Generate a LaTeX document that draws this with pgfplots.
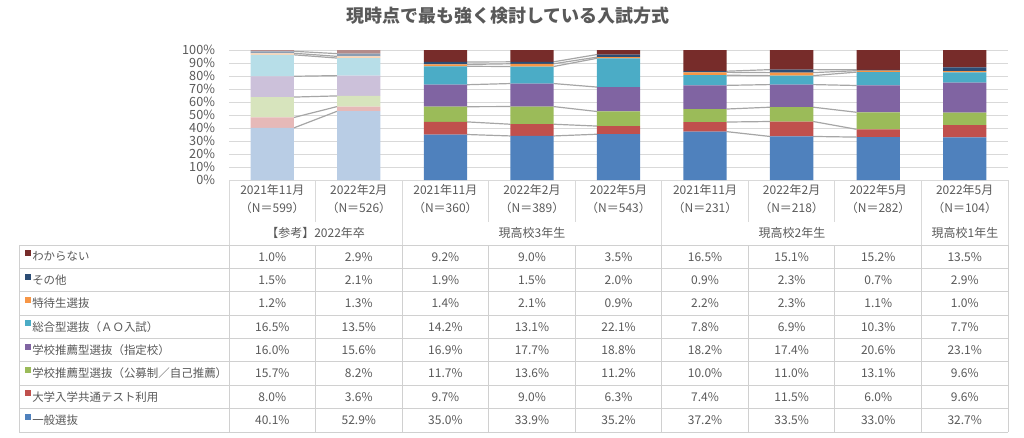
\documentclass[border=0pt]{standalone}
\usepackage{fontspec}
\setmainfont{Noto Sans CJK JP}
\usepackage{pgfplots}
\usepackage{pgfplotstable}
\pgfplotsset{compat=1.18}

\definecolor{txt}{HTML}{595959}
\definecolor{gridc}{HTML}{D9D9D9}
\definecolor{tabc}{HTML}{D0D0D0}
\definecolor{sline}{HTML}{A6A6A6}
\definecolor{cA}{HTML}{4F81BD}
\definecolor{cB}{HTML}{C0504D}
\definecolor{cC}{HTML}{9BBB59}
\definecolor{cD}{HTML}{8064A2}
\definecolor{cE}{HTML}{4BACC6}
\definecolor{cF}{HTML}{F79646}
\definecolor{cG}{HTML}{2C4D75}
\definecolor{cH}{HTML}{772C2A}

% group 1 : 【参考】2022年卒
\pgfplotstableread{
x a b c d e f g h
0 40.1 8.0 15.7 16.0 16.5 1.2 1.5 1.0
1 52.9 3.6 8.2 15.6 13.5 1.3 2.1 2.9
}\dataA
% groups 2-4 : 現高校3年生, 2年生, 1年生
\pgfplotstableread{
x a b c d e f g h
2 35.0 9.7 11.7 16.9 14.2 1.4 1.9 9.2
3 33.9 9.0 13.6 17.7 13.1 2.1 1.5 9.0
4 35.2 6.3 11.2 18.8 22.1 0.9 2.0 3.5
5 37.2 7.4 10.0 18.2 7.8 2.2 0.9 16.5
6 33.5 11.5 11.0 17.4 6.9 2.3 2.3 15.1
7 33.0 6.0 13.1 20.6 10.3 1.1 0.7 15.2
8 32.7 9.6 9.6 23.1 7.7 1.0 2.9 13.5
}\dataB

\pgfplotsset{
  base/.style={scale only axis, width=584.25pt, height=97.5pt,
    xmin=-0.5, xmax=8.5, ymin=0, ymax=100,
    at={(171.75pt,-135pt)}, anchor=south west},
  barax/.style={base, hide axis, ybar stacked, bar width=0.5},
}

\begin{document}
\begin{tikzpicture}[x=0.75pt, y=-0.75pt]
\path[use as bounding box] (0,0) rectangle (1024,437);

% title
\node[font=\fontsize{13.5}{16}\selectfont\bfseries, text=txt] at (508,16)
  {現時点で最も強く検討している入試方式};

% main axis: grid, ticks, series lines
\begin{axis}[base,
  axis x line*=bottom, axis y line*=left,
  x axis line style={gridc, line width=0.75pt},
  y axis line style={draw=none},
  ymajorgrids, grid style={gridc, line width=0.75pt},
  major tick length=0,
  ytick={0,10,...,100},
  yticklabels={0\%,10\%,20\%,30\%,40\%,50\%,60\%,70\%,80\%,90\%,100\%},
  yticklabel style={font=\fontsize{9.5}{11}\selectfont, text=txt, xshift=-7pt},
  xtick={0,...,8},
  xticklabels={{2021年11月\\（N＝599）},{2022年2月\\（N＝526）},
    {2021年11月\\（N＝360）},{2022年2月\\（N＝389）},{2022年5月\\（N＝543）},
    {2021年11月\\（N＝231）},{2022年2月\\（N＝218）},{2022年5月\\（N＝282）},
    {2022年5月\\（N＝104）}},
  xticklabel style={align=center, font=\fontsize{9}{13.5}\selectfont, text=txt},
  unbounded coords=jump,
]
\addplot[sline, line width=0.9pt] coordinates {(0.25,40.1)(0.75,52.9)(1.5,nan)(2.25,35.0)(2.75,33.9)(3,nan)(3.25,33.9)(3.75,35.2)(4.5,nan)(5.25,37.2)(5.75,33.5)(6,nan)(6.25,33.5)(6.75,33.0)};
\addplot[sline, line width=0.9pt] coordinates {(0.25,48.1)(0.75,56.5)(1.5,nan)(2.25,44.7)(2.75,42.9)(3,nan)(3.25,42.9)(3.75,41.5)(4.5,nan)(5.25,44.6)(5.75,45.0)(6,nan)(6.25,45.0)(6.75,39.0)};
\addplot[sline, line width=0.9pt] coordinates {(0.25,63.8)(0.75,64.7)(1.5,nan)(2.25,56.4)(2.75,56.5)(3,nan)(3.25,56.5)(3.75,52.7)(4.5,nan)(5.25,54.6)(5.75,56.0)(6,nan)(6.25,56.0)(6.75,52.1)};
\addplot[sline, line width=0.9pt] coordinates {(0.25,79.8)(0.75,80.3)(1.5,nan)(2.25,73.3)(2.75,74.2)(3,nan)(3.25,74.2)(3.75,71.5)(4.5,nan)(5.25,72.8)(5.75,73.4)(6,nan)(6.25,73.4)(6.75,72.7)};
\addplot[sline, line width=0.9pt] coordinates {(0.25,96.3)(0.75,93.8)(1.5,nan)(2.25,87.5)(2.75,87.3)(3,nan)(3.25,87.3)(3.75,93.6)(4.5,nan)(5.25,80.6)(5.75,80.3)(6,nan)(6.25,80.3)(6.75,83.0)};
\addplot[sline, line width=0.9pt] coordinates {(0.25,97.5)(0.75,95.1)(1.5,nan)(2.25,88.9)(2.75,89.4)(3,nan)(3.25,89.4)(3.75,94.5)(4.5,nan)(5.25,82.8)(5.75,82.6)(6,nan)(6.25,82.6)(6.75,84.1)};
\addplot[sline, line width=0.9pt] coordinates {(0.25,99.0)(0.75,97.2)(1.5,nan)(2.25,90.8)(2.75,90.9)(3,nan)(3.25,90.9)(3.75,96.5)(4.5,nan)(5.25,83.7)(5.75,84.9)(6,nan)(6.25,84.9)(6.75,84.8)};
\end{axis}

% pale bars (group 1)
\begin{axis}[barax]
\foreach \s/\c/\p in {a/cA/40,b/cB/40,c/cC/40,d/cD/40,e/cE/40,f/cF/40,g/cG/55,h/cH/55}{
  \edef\tmp{\noexpand\addplot[fill=\c!\p!white, draw=none] table[x=x, y=\s] {\noexpand\dataA};}
  \tmp
}
\end{axis}

% saturated bars (groups 2-4)
\begin{axis}[barax]
\foreach \s/\c in {a/cA,b/cB,c/cC,d/cD,e/cE,f/cF,g/cG,h/cH}{
  \edef\tmp{\noexpand\addplot[fill=\c, draw=none] table[x=x, y=\s] {\noexpand\dataB};}
  \tmp
}
\end{axis}

% category box lines below the chart
\foreach \k in {0,2,5,8,9} \draw[gridc, line width=0.75pt] ({229+86.56*\k},180) -- ({229+86.56*\k},245);
\foreach \k in {1,3,4,6,7} \draw[gridc, line width=0.75pt] ({229+86.56*\k},180) -- ({229+86.56*\k},222);

\begin{scope}[font=\fontsize{9}{11}\selectfont, text=txt]
\node at (315.6,233) {【参考】2022年卒};
\node at (532,233) {現高校3年生};
\node at (792,233) {現高校2年生};
\node at (965,233) {現高校1年生};
\end{scope}

% data table
\foreach \i in {0,...,8} \draw[tabc, line width=0.75pt] (19,{245+23.375*\i}) -- (1008,{245+23.375*\i});
\draw[tabc, line width=0.75pt] (19,245) -- (19,432);
\foreach \k in {0,...,9} \draw[tabc, line width=0.75pt] ({229+86.56*\k},245) -- ({229+86.56*\k},432);

\foreach \s/\c/\lab [count=\r from 0] in {h/cH/わからない, g/cG/その他, f/cF/特待生選抜,
    e/cE/総合型選抜（ＡＯ入試）, d/cD/学校推薦型選抜（指定校）,
    c/cC/学校推薦型選抜（公募制／自己推薦）, b/cB/大学入学共通テスト利用, a/cA/一般選抜}{
  \pgfmathsetmacro\yc{245+23.375*(\r+0.5)}
  \fill[\c] (25,{\yc-6.5}) rectangle (31,{\yc-0.5});
  \node[anchor=west, inner sep=0pt, font=\fontsize{8.6}{10}\selectfont, text=txt] at (32,\yc) {\lab};
  \foreach \k in {0,...,8}{
    \ifnum\k<2\relax
      \pgfplotstablegetelem{\k}{\s}\of\dataA
    \else
      \pgfmathtruncatemacro\kk{\k-2}
      \pgfplotstablegetelem{\kk}{\s}\of\dataB
    \fi
    \node[font=\fontsize{9}{11}\selectfont, text=txt] at ({229+86.56*(\k+0.5)},\yc)
      {\pgfmathprintnumber[fixed, fixed zerofill, precision=1, assume math mode=true]{\pgfplotsretval}\%};
  }
}
\end{tikzpicture}
\end{document}
